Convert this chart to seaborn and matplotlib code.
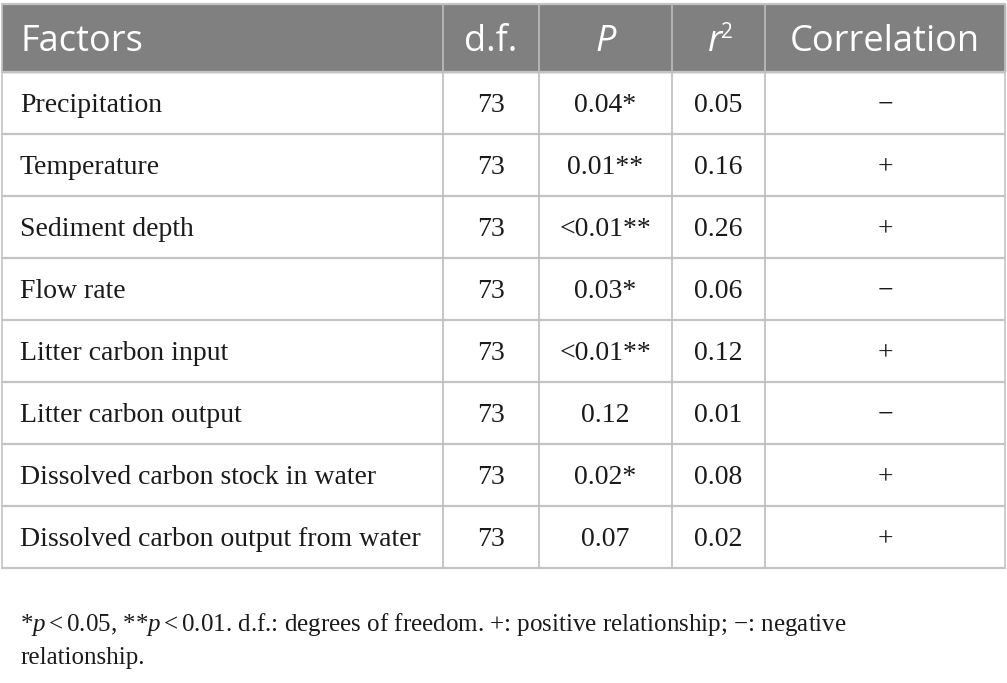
import matplotlib
matplotlib.use("Agg")
import matplotlib.pyplot as plt
import seaborn as sns

sns.set_theme(style="white")
plt.rcParams["mathtext.fontset"] = "custom"
plt.rcParams["mathtext.rm"] = "Liberation Serif"
plt.rcParams["mathtext.it"] = "Liberation Serif:italic"

# table content
factors = ["Precipitation", "Temperature", "Sediment depth", "Flow rate",
           "Litter carbon input", "Litter carbon output",
           "Dissolved carbon stock in water", "Dissolved carbon output from water"]
df_vals = ["73", "73", "73", "73", "73", "73", "73", "73"]
p_vals = ["0.04*", "0.01**", "<0.01**", "0.03*", "<0.01**", "0.12", "0.02*", "0.07"]
r2_vals = ["0.05", "0.16", "0.26", "0.06", "0.12", "0.01", "0.08", "0.02"]
corr = ["\u2212", "+", "+", "\u2212", "+", "\u2212", "+", "+"]

# layout in pixels
col_edges = [2, 443, 539, 672, 765, 1005]
header_top, header_bot = 4, 72
row_h = 62

fig = plt.figure(figsize=(10.07, 6.83), dpi=100)
ax = fig.add_axes([0, 0, 1, 1])
ax.set_xlim(0, 1007)
ax.set_ylim(683, 0)
ax.axis("off")

grid = "#c4c4c4"
n = len(factors)
bottom = header_bot + n * row_h

# header background
ax.add_patch(plt.Rectangle((col_edges[0], header_top), col_edges[-1] - col_edges[0],
                           header_bot - header_top, color="#808080", zorder=1))

# grid lines
for i in range(n + 1):
    y = header_bot + i * row_h
    ax.plot([col_edges[0], col_edges[-1]], [y, y], color=grid, lw=1.6, zorder=2)
ax.plot([col_edges[0], col_edges[-1]], [header_top, header_top], color=grid, lw=1.6, zorder=2)
for j, x in enumerate(col_edges):
    ax.plot([x, x], [header_top, bottom], color=grid if j in (0, 5) else "#bdbdbd",
            lw=1.2, zorder=2)

# header text
hfont = dict(family="Open Sans", color="white", fontsize=26, va="baseline")
hy = 51
centers = [(col_edges[k] + col_edges[k + 1]) / 2 for k in range(5)]
ax.text(20, hy, "Factors", ha="left", **hfont)
ax.text(centers[1], hy, "d.f.", ha="center", **hfont)
ax.text(centers[2], hy, "P", ha="center", style="italic", **hfont)
ax.text(centers[3] + 4, hy, "r", ha="right", style="italic", **hfont)
ax.text(centers[3] + 3, hy - 13, "2", ha="left", family="Open Sans", color="white",
        fontsize=15, va="baseline")
ax.text(centers[4], hy, "Correlation", ha="center", **hfont)

# body text
bfont = dict(family="Liberation Serif", color="#1a1a1a", fontsize=20, va="baseline")
for i in range(n):
    y = header_bot + i * row_h + 40
    ax.text(20, y, factors[i], ha="left", **bfont)
    ax.text(centers[1], y, df_vals[i], ha="center", **bfont)
    ax.text(centers[2], y, p_vals[i], ha="center", **bfont)
    ax.text(centers[3], y, r2_vals[i], ha="center", **bfont)
    ax.text(centers[4], y, corr[i], ha="center", **bfont)

# footnote
ffont = dict(family="Liberation Serif", color="#1a1a1a", fontsize=18, va="baseline")
ax.text(20, 631, r"*$p<0.05$, **$p<0.01$. d.f.: degrees of freedom. +: positive "
        "relationship; \u2212: negative", ha="left", **ffont)
ax.text(20, 664, "relationship.", ha="left", **ffont)

fig.savefig("out.png", dpi=100)
